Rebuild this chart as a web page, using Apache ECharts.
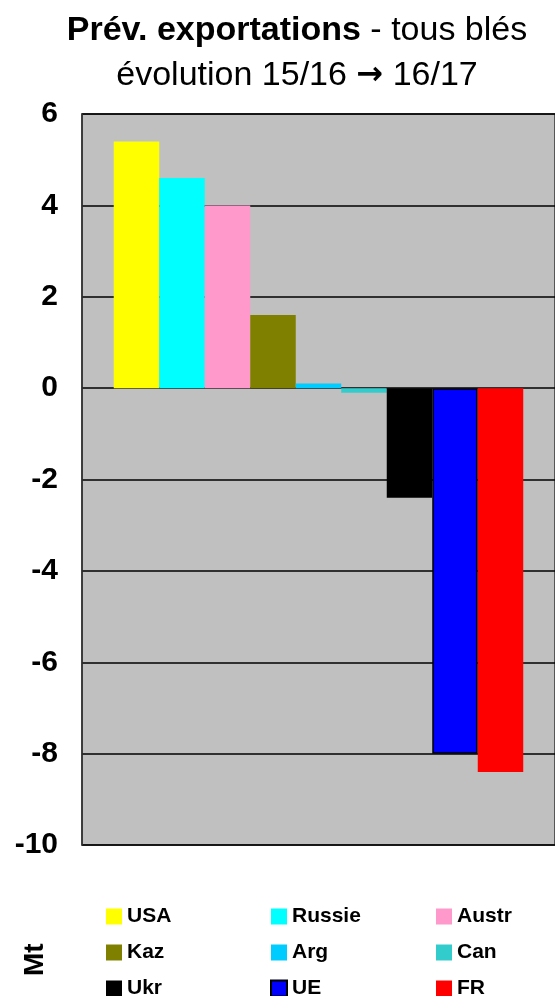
<!DOCTYPE html>
<html>
<head>
<meta charset="utf-8">
<script src="https://cdn.jsdelivr.net/npm/echarts@6/dist/echarts.min.js"></script>
<style>
  html, body { margin: 0; padding: 0; background: #fff; }
  #main { width: 555px; height: 996px; }
</style>
</head>
<body>
<div id="main"></div>
<script>
// pays et variation des exportations (Mt)
const pays = ["USA", "Russie", "Austr", "Kaz", "Arg", "Can", "Ukr", "UE", "FR"];
const variation = [5.4, 4.6, 4.0, 1.6, 0.1, -0.1, -2.4, -8.0, -8.4];
const couleurs = ["#ffff00", "#00ffff", "#ff99cc", "#808000", "#00ccff", "#33cccc", "#000000", "#0000ff", "#ff0000"];
const colonnesLegende = [["USA", "Kaz", "Ukr"], ["Russie", "Arg", "UE"], ["Austr", "Can", "FR"]];

let chart = echarts.init(document.getElementById("main"));

let series = pays.map((p, i) => ({
  name: p,
  type: "bar",
  data: [variation[i]],
  barWidth: 45.5,
  barGap: "0%",
  itemStyle: {
    color: couleurs[i],
    borderColor: p === "UE" ? "#000" : null,
    borderWidth: p === "UE" ? 1.5 : 0,
  },
}));

// une légende par colonne
let legendes = colonnesLegende.map((col, k) => ({
  data: col,
  orient: "vertical",
  left: [106, 270, 436][k],
  top: 906,
  height: 120,
  padding: 0,
  itemWidth: 16,
  itemHeight: 16,
  itemGap: 15,
  icon: "rect",
  textStyle: { fontFamily: "Liberation Sans", fontWeight: "bold", fontSize: 21, color: "#000" },
}));

let option = {
  animation: false,
  backgroundColor: "#fff",
  title: {
    text: "{b|Prév. exportations} - tous blés\névolution 15/16 {a|→} 16/17",
    left: 297,
    textAlign: "center",
    top: 8,
    padding: 0,
    textStyle: {
      fontFamily: "Liberation Sans",
      fontWeight: "normal",
      fontSize: 34,
      lineHeight: 45,
      color: "#000",
      rich: {
        b: { fontFamily: "Liberation Sans", fontWeight: "bold", fontSize: 34, lineHeight: 45, color: "#000" },
        a: { fontFamily: "DejaVu Sans", fontWeight: "bold", fontSize: 32, lineHeight: 45, color: "#000" },
      },
    },
  },
  legend: legendes,
  grid: {
    left: 82,
    right: 0,
    top: 114,
    bottom: 151,
    show: true,
    backgroundColor: "#c0c0c0",
    borderColor: "#333",
    borderWidth: 1.5,
  },
  xAxis: {
    type: "category",
    data: [""],
    axisLine: { show: false },
    axisTick: { show: false },
    axisLabel: { show: false },
  },
  yAxis: {
    type: "value",
    min: -10,
    max: 6,
    interval: 2,
    axisLine: { show: true, lineStyle: { color: "#333", width: 1.5 } },
    axisTick: { show: false },
    axisLabel: {
      margin: 24,
      fontFamily: "Liberation Sans",
      fontWeight: "bold",
      fontSize: 30,
      color: "#000",
    },
    splitLine: { show: true, lineStyle: { color: "#000", width: 1.5 } },
  },
  graphic: [
    {
      type: "text",
      x: 21,
      y: 976,
      rotation: Math.PI / 2,
      style: { text: "Mt", font: "bold 28px 'Liberation Sans'", fill: "#000" },
    },
  ],
  series: series,
};

option && chart.setOption(option);
</script>
</body>
</html>
